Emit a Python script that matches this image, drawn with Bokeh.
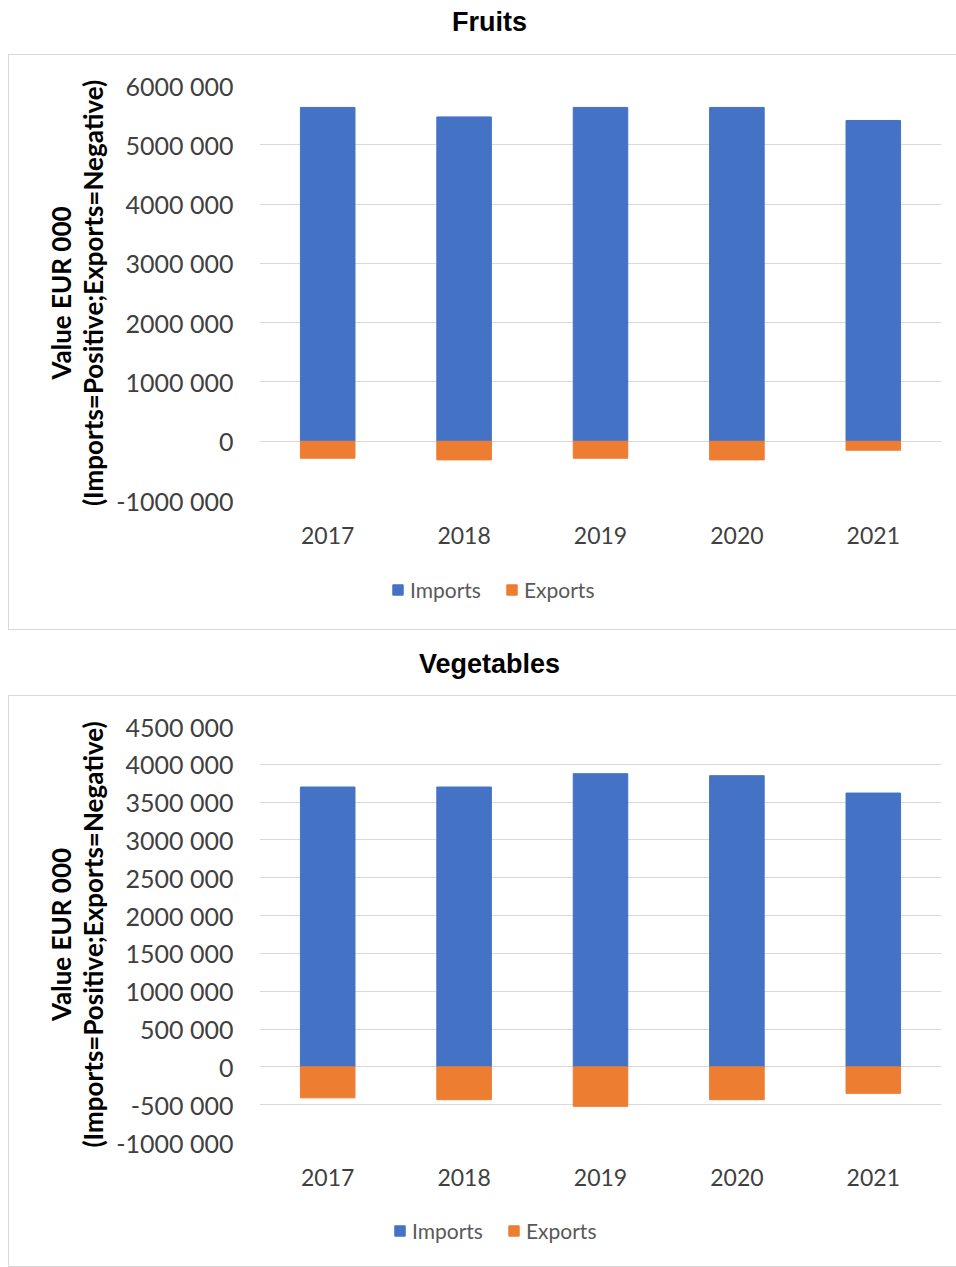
from bokeh.plotting import figure
from bokeh.models import FactorRange, Range1d, FixedTicker, Legend, LegendItem, Spacer
from bokeh.layouts import column, row
from bokeh.embed import file_html
from bokeh.resources import INLINE

# ---------------- data ----------------
years = ["2017", "2018", "2019", "2020", "2021"]

fruit_imports = [5630000, 5470000, 5630000, 5630000, 5410000]
fruit_exports = [-287000, -315000, -287000, -315000, -152000]
fruit_ticks = [-1000000, 0, 1000000, 2000000, 3000000, 4000000, 5000000, 6000000]
fruit_tick_labels = ["-1000 000", "0", "1000 000", "2000 000", "3000 000",
                     "4000 000", "5000 000", "6000 000"]

veg_imports = [3700000, 3700000, 3876000, 3850000, 3620000]
veg_exports = [-410000, -434000, -522000, -434000, -350000]
veg_ticks = [-1000000, -500000, 0, 500000, 1000000, 1500000, 2000000,
             2500000, 3000000, 3500000, 4000000, 4500000]
veg_tick_labels = ["-1000 000", "-500 000", "0", "500 000", "1000 000", "1500 000",
                   "2000 000", "2500 000", "3000 000", "3500 000", "4000 000", "4500 000"]

titles = ["Fruits", "Vegetables"]
y_label = "Value EUR 000\n(Imports=Positive;Exports=Negative)"
series_names = ["Imports", "Exports"]

BLUE = "#4472C4"
ORANGE = "#ED7D31"
GRID = "#d9d9d9"
TICK_FONT = "Lato"
LEG_H = 60


def title_fig(text, height, top):
    t = figure(width=956, height=height, toolbar_location=None, output_backend="svg",
               min_border_left=22, min_border_right=0, min_border_top=top, min_border_bottom=0,
               x_range=Range1d(0, 1), y_range=Range1d(0, 1))
    t.title.text = text
    t.title.align = "center"
    t.title.text_font = "Liberation Sans"
    t.title.text_font_style = "bold"
    t.title.text_font_size = "27px"
    t.title.text_color = "#000000"
    t.title.standoff = 0
    t.axis.visible = False
    t.grid.visible = False
    t.outline_line_color = None
    return t


def chart(imports, exports, ticks, tick_labels, height, frame_h):
    p = figure(width=947, height=height, toolbar_location=None, output_backend="svg",
               x_range=FactorRange(factors=years, range_padding=0),
               y_range=Range1d(ticks[0], ticks[-1]),
               min_border_left=250, min_border_right=15, min_border_top=30,
               min_border_bottom=height - 30 - frame_h)
    p.vbar(x=years, top=imports, bottom=0, width=0.4, color=BLUE)
    p.vbar(x=years, top=0, bottom=exports, width=0.4, color=ORANGE)

    p.outline_line_color = None
    p.xgrid.grid_line_color = None
    p.ygrid.grid_line_color = GRID
    p.ygrid.grid_line_width = 1

    p.yaxis.ticker = FixedTicker(ticks=ticks)
    p.yaxis.major_label_overrides = {t: l for t, l in zip(ticks, tick_labels)}
    for ax in (p.xaxis[0], p.yaxis[0]):
        ax.axis_line_color = None
        ax.major_tick_line_color = None
        ax.minor_tick_line_color = None
        ax.major_tick_out = 0
        ax.major_tick_in = 0
        ax.major_label_text_font = TICK_FONT
        ax.major_label_text_color = "#404040"
    p.yaxis.major_label_text_font_size = "25px"
    p.yaxis.major_label_standoff = 26
    p.xaxis.major_label_text_font_size = "23px"
    p.xaxis.major_label_standoff = 26

    p.yaxis.axis_label = y_label
    p.yaxis.axis_label_text_font = TICK_FONT
    p.yaxis.axis_label_text_font_style = "bold"
    p.yaxis.axis_label_text_font_size = "26px"
    p.yaxis.axis_label_text_color = "#000000"
    p.yaxis.axis_label_text_line_height = 1.0
    p.yaxis.axis_label_standoff = 4
    return p


def legend_fig(imports, exports, x_off, y_off):
    # legend strip below the chart; its bars lie outside the visible range, only the legend shows
    lf = figure(width=947, height=LEG_H, toolbar_location=None, output_backend="svg",
                min_border=0, x_range=FactorRange(factors=years, range_padding=0),
                y_range=Range1d(10e6, 11e6))
    r1 = lf.vbar(x=years, top=imports, bottom=0, width=0.4, color=BLUE)
    r2 = lf.vbar(x=years, top=0, bottom=exports, width=0.4, color=ORANGE)
    lf.axis.visible = False
    lf.grid.visible = False
    lf.outline_line_color = None
    legend = Legend(items=[LegendItem(label=series_names[0], renderers=[r1]),
                           LegendItem(label=series_names[1], renderers=[r2])],
                    location=(x_off, y_off), orientation="horizontal",
                    border_line_color=None, background_fill_alpha=0,
                    padding=0, margin=0, spacing=24, label_standoff=6,
                    glyph_width=13, glyph_height=13, label_height=20,
                    label_text_font=TICK_FONT, label_text_font_size="21px",
                    label_text_color="#595959")
    lf.add_layout(legend)
    return lf


BOX = {"border": "1px solid #d9d9d9"}

t1 = title_fig(titles[0], 54, 36)
c1 = chart(fruit_imports, fruit_exports, fruit_ticks, fruit_tick_labels, 574 - LEG_H, 415)
l1 = legend_fig(fruit_imports, fruit_exports, 132, 27)
t2 = title_fig(titles[1], 65, 48)
c2 = chart(veg_imports, veg_exports, veg_ticks, veg_tick_labels, 570 - LEG_H, 416)
l2 = legend_fig(veg_imports, veg_exports, 134, 23)

box1 = column(c1, l1, spacing=0, styles=BOX)
box2 = column(c2, l2, spacing=0, styles=BOX)

layout = column(t1, row(Spacer(width=8), box1), t2, row(Spacer(width=8), box2), spacing=0)

open("out.html", "w").write(file_html(layout, INLINE))
